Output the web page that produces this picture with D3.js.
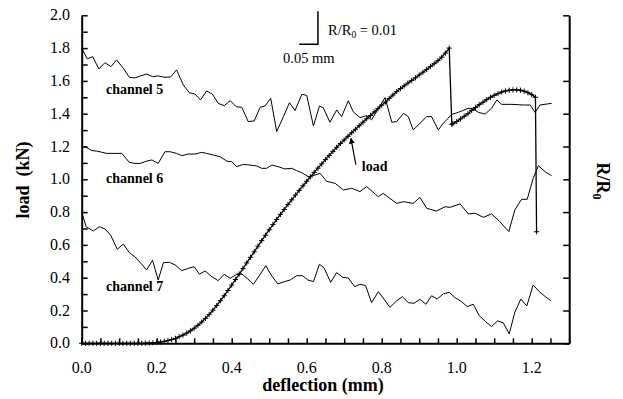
<!DOCTYPE html>
<html>
<head>
<meta charset="utf-8">
<script src="https://cdn.jsdelivr.net/npm/d3@7"></script>
<style>
  body { margin: 0; background: #fff; }
  svg { display: block; }
  text { fill: #000; }
</style>
</head>
<body>
<svg id="chart" width="623" height="399" font-family="'Liberation Serif', 'Times New Roman', 'DejaVu Serif', serif"></svg>
<script>
// deflection (mm) vs load (kN)
const loadX = [
  0.00, 0.01, 0.02, 0.03, 0.04, 0.05, 0.06, 0.07, 0.08, 0.09,
  0.10, 0.11, 0.12, 0.13, 0.14, 0.15, 0.16, 0.17, 0.18, 0.19,
  0.20, 0.21, 0.22, 0.23, 0.24, 0.25, 0.26, 0.27, 0.28, 0.29,
  0.30, 0.31, 0.32, 0.33, 0.34, 0.35, 0.36, 0.37, 0.38, 0.39,
  0.40, 0.41, 0.42, 0.43, 0.44, 0.45, 0.46, 0.47, 0.48, 0.49,
  0.50, 0.51, 0.52, 0.53, 0.54, 0.55, 0.56, 0.57, 0.58, 0.59,
  0.60, 0.61, 0.62, 0.63, 0.64, 0.65, 0.66, 0.67, 0.68, 0.69,
  0.70, 0.71, 0.72, 0.73, 0.74, 0.75, 0.76, 0.77, 0.78, 0.79,
  0.80, 0.81, 0.82, 0.83, 0.84, 0.85, 0.86, 0.87, 0.88, 0.89,
  0.90, 0.91, 0.92, 0.93, 0.94, 0.95, 0.96, 0.97, 0.98, 0.987,
  0.99, 1.00, 1.01, 1.02, 1.03, 1.04, 1.05, 1.06, 1.07, 1.08,
  1.09, 1.10, 1.11, 1.12, 1.13, 1.14, 1.15, 1.16, 1.17, 1.18,
  1.19, 1.20, 1.21, 1.213
];
const loadY = [
  0.000, 0.000, 0.000, 0.000, 0.000, 0.000, 0.000, 0.000, 0.000, 0.000,
  0.000, 0.000, 0.000, 0.000, 0.000, 0.000, 0.000, 0.001, 0.002, 0.003,
  0.005, 0.008, 0.012, 0.017, 0.023, 0.030, 0.040, 0.050, 0.062, 0.076,
  0.092, 0.110, 0.130, 0.152, 0.176, 0.202, 0.230, 0.260, 0.290, 0.322,
  0.355, 0.389, 0.422, 0.456, 0.490, 0.524, 0.558, 0.592, 0.626, 0.659,
  0.692, 0.724, 0.755, 0.786, 0.816, 0.846, 0.875, 0.904, 0.932, 0.960,
  0.988, 1.015, 1.042, 1.068, 1.094, 1.120, 1.145, 1.170, 1.195, 1.218,
  1.240, 1.262, 1.284, 1.305, 1.327, 1.348, 1.369, 1.389, 1.410, 1.431,
  1.452, 1.472, 1.493, 1.514, 1.535, 1.553, 1.570, 1.587, 1.603, 1.619,
  1.636, 1.653, 1.670, 1.688, 1.705, 1.723, 1.745, 1.770, 1.800, 1.335,
  1.340, 1.352, 1.368, 1.384, 1.400, 1.420, 1.438, 1.455, 1.470, 1.486,
  1.500, 1.512, 1.522, 1.532, 1.539, 1.543, 1.545, 1.545, 1.543, 1.537,
  1.528, 1.516, 1.500, 0.680
];

// resistance channels, drawn against the load axis as in the figure
const channel5 = [
  [0.000, 1.799], [0.015, 1.734], [0.029, 1.748], [0.046, 1.673], [0.062, 1.711],
  [0.078, 1.687], [0.093, 1.728], [0.111, 1.677], [0.127, 1.622], [0.142, 1.618],
  [0.156, 1.630], [0.173, 1.642], [0.189, 1.626], [0.204, 1.630], [0.222, 1.622],
  [0.237, 1.624], [0.253, 1.667], [0.271, 1.575], [0.287, 1.528], [0.302, 1.520],
  [0.317, 1.484], [0.333, 1.539], [0.349, 1.518], [0.364, 1.463], [0.380, 1.449],
  [0.396, 1.480], [0.412, 1.443], [0.427, 1.439], [0.444, 1.352], [0.460, 1.356],
  [0.476, 1.439], [0.489, 1.447], [0.504, 1.494], [0.520, 1.291], [0.538, 1.382],
  [0.554, 1.467], [0.569, 1.419], [0.587, 1.518], [0.600, 1.512], [0.618, 1.325],
  [0.634, 1.447], [0.644, 1.437], [0.662, 1.348], [0.680, 1.423], [0.693, 1.382],
  [0.711, 1.479], [0.724, 1.412], [0.742, 1.376], [0.760, 1.388], [0.773, 1.362],
  [0.791, 1.433], [0.809, 1.498], [0.827, 1.348], [0.840, 1.352], [0.858, 1.402],
  [0.871, 1.382], [0.884, 1.301], [0.902, 1.341], [0.920, 1.382], [0.933, 1.382],
  [0.951, 1.301], [0.964, 1.341], [0.987, 1.396], [1.004, 1.408], [1.031, 1.433],
  [1.044, 1.429], [1.058, 1.408], [1.076, 1.398], [1.093, 1.433], [1.107, 1.484],
  [1.120, 1.457], [1.147, 1.457], [1.178, 1.453], [1.196, 1.453], [1.209, 1.408],
  [1.222, 1.453], [1.253, 1.463]
];
const channel6 = [
  [0.000, 1.199], [0.012, 1.195], [0.027, 1.175], [0.040, 1.172], [0.067, 1.158],
  [0.084, 1.158], [0.107, 1.158], [0.127, 1.103], [0.142, 1.097], [0.156, 1.097],
  [0.173, 1.111], [0.187, 1.118], [0.204, 1.097], [0.222, 1.168], [0.236, 1.168],
  [0.253, 1.158], [0.267, 1.144], [0.284, 1.154], [0.302, 1.154], [0.320, 1.164],
  [0.333, 1.158], [0.351, 1.148], [0.369, 1.138], [0.387, 1.111], [0.400, 1.107],
  [0.413, 1.077], [0.431, 1.091], [0.449, 1.087], [0.467, 1.081], [0.480, 1.067],
  [0.493, 1.067], [0.507, 1.087], [0.524, 1.077], [0.542, 1.063], [0.560, 1.067],
  [0.573, 1.053], [0.587, 1.040], [0.604, 1.016], [0.622, 1.026], [0.636, 1.036],
  [0.653, 0.988], [0.676, 0.975], [0.698, 0.935], [0.720, 0.945], [0.742, 0.925],
  [0.760, 0.955], [0.791, 0.894], [0.804, 0.914], [0.840, 0.853], [0.858, 0.864],
  [0.884, 0.853], [0.902, 0.890], [0.920, 0.823], [0.946, 0.806], [0.969, 0.833],
  [0.982, 0.829], [1.009, 0.850], [1.031, 0.789], [1.049, 0.793], [1.071, 0.768],
  [1.093, 0.789], [1.115, 0.742], [1.139, 0.681], [1.155, 0.813], [1.173, 0.878],
  [1.188, 0.878], [1.204, 1.006], [1.218, 1.083], [1.236, 1.046], [1.253, 1.022]
];
const channel7 = [
  [0.000, 0.800], [0.012, 0.711], [0.031, 0.685], [0.047, 0.711], [0.062, 0.697],
  [0.077, 0.660], [0.095, 0.573], [0.111, 0.605], [0.127, 0.553], [0.142, 0.528],
  [0.160, 0.482], [0.173, 0.447], [0.189, 0.506], [0.204, 0.386], [0.218, 0.492],
  [0.234, 0.494], [0.249, 0.478], [0.267, 0.443], [0.284, 0.457], [0.300, 0.467],
  [0.314, 0.421], [0.329, 0.441], [0.347, 0.406], [0.364, 0.382], [0.380, 0.421],
  [0.396, 0.396], [0.413, 0.421], [0.427, 0.423], [0.443, 0.392], [0.458, 0.360],
  [0.476, 0.421], [0.491, 0.474], [0.505, 0.417], [0.523, 0.362], [0.540, 0.376],
  [0.556, 0.386], [0.573, 0.412], [0.589, 0.412], [0.603, 0.386], [0.618, 0.376],
  [0.634, 0.482], [0.646, 0.461], [0.664, 0.372], [0.680, 0.431], [0.696, 0.402],
  [0.711, 0.398], [0.728, 0.345], [0.742, 0.360], [0.757, 0.352], [0.773, 0.248],
  [0.791, 0.315], [0.806, 0.270], [0.822, 0.219], [0.840, 0.260], [0.855, 0.284],
  [0.871, 0.248], [0.886, 0.244], [0.902, 0.268], [0.918, 0.238], [0.933, 0.290],
  [0.948, 0.270], [0.964, 0.301], [0.980, 0.311], [0.995, 0.280], [1.013, 0.254],
  [1.028, 0.224], [1.044, 0.238], [1.060, 0.169], [1.077, 0.132], [1.093, 0.102],
  [1.109, 0.136], [1.124, 0.126], [1.140, 0.057], [1.155, 0.189], [1.171, 0.270],
  [1.187, 0.228], [1.204, 0.356], [1.220, 0.315], [1.236, 0.285], [1.251, 0.260]
];

const xTicks = [0.0, 0.2, 0.4, 0.6, 0.8, 1.0, 1.2];
const yTicks = [0.0, 0.2, 0.4, 0.6, 0.8, 1.0, 1.2, 1.4, 1.6, 1.8, 2.0];

// labels placed in data units
const channelLabels = [
  { text: "channel 5", x: 0.065, y: 1.52 },
  { text: "channel 6", x: 0.065, y: 0.98 },
  { text: "channel 7", x: 0.065, y: 0.32 }
];
const loadArrow = { from: [0.731, 1.09], to: [0.718, 1.25], text: "load", tx: 0.747, ty: 1.05 };
// scale bar: 0.05 mm across, R/R0 = 0.01 up
const scaleBarX = [0.58, 0.63];
const scaleBarR = [0.0912, 0.1012];

const svg = d3.select("#chart");
const mLeft = 81.7, mRight = 569.2, mTop = 15.3, mBottom = 343.3;

const x = d3.scaleLinear().domain([0, 1.3]).range([mLeft, mRight]);
const y = d3.scaleLinear().domain([0, 2.0]).range([mBottom, mTop]);
const yR = d3.scaleLinear().domain([0, 0.1]).range([mBottom, mTop]);

svg.append("rect").attr("width", 623).attr("height", 399).attr("fill", "#fff");

// axes, ticks pointing inward
const xAxis = d3.axisBottom(x).tickValues(d3.range(0, 1.3001, 0.05)).tickSizeInner(-5).tickSizeOuter(0).tickFormat("");
const gx = svg.append("g").attr("transform", `translate(0,${mBottom})`).call(xAxis);
const yAxis = d3.axisLeft(y).tickValues(d3.range(0, 2.0001, 0.1)).tickSizeInner(-6).tickSizeOuter(0).tickFormat("");
const gy = svg.append("g").attr("transform", `translate(${mLeft},0)`).call(yAxis);
const yAxisR = d3.axisRight(yR).ticks(10).tickSizeInner(-6).tickSizeOuter(0).tickFormat("");
const gr = svg.append("g").attr("transform", `translate(${mRight},0)`).call(yAxisR);

[gx, gy, gr].forEach(g => {
  g.select(".domain").attr("stroke", "#000").attr("stroke-width", 2);
  g.selectAll(".tick line").attr("stroke", "#000").attr("stroke-width", 1.5);
});

// tick labels
svg.append("g").selectAll("text").data(xTicks).join("text")
  .attr("x", d => x(d)).attr("y", 373)
  .attr("text-anchor", "middle").attr("font-size", 16)
  .text(d => d.toFixed(1));
svg.append("g").selectAll("text").data(yTicks).join("text")
  .attr("x", 70).attr("y", d => y(d) + 5)
  .attr("text-anchor", "end").attr("font-size", 16)
  .text(d => d.toFixed(1));

// axis titles
svg.append("text").attr("x", 323).attr("y", 391)
  .attr("text-anchor", "middle").attr("font-size", 18).attr("font-weight", "bold")
  .text("deflection (mm)");
svg.append("text").attr("transform", "translate(29,180) rotate(-90)")
  .attr("text-anchor", "middle").attr("font-size", 18).attr("font-weight", "bold")
  .attr("xml:space", "preserve")
  .text("load  (kN)");
const rTitle = svg.append("text").attr("transform", "translate(597,181) rotate(90)")
  .attr("text-anchor", "middle").attr("font-size", 18).attr("font-weight", "bold");
rTitle.append("tspan").text("R/R");
rTitle.append("tspan").attr("font-size", 12).attr("dy", 4).text("0");

// channel lines
const line = d3.line().x(d => x(d[0])).y(d => y(d[1]));
[channel5, channel6, channel7].forEach(ch => {
  svg.append("path").datum(ch).attr("d", line)
    .attr("fill", "none").attr("stroke", "#000").attr("stroke-width", 1);
});

// load curve with + markers
const loadPts = loadX.map((d, i) => [d, loadY[i]]);
svg.append("path").datum(loadPts).attr("d", line)
  .attr("fill", "none").attr("stroke", "#000").attr("stroke-width", 1.3);
svg.append("g").selectAll("path").data(loadPts).join("path")
  .attr("transform", d => `translate(${x(d[0])},${y(d[1])})`)
  .attr("d", "M-2.6,0H2.6M0,-2.6V2.6")
  .attr("stroke", "#000").attr("stroke-width", 1);

// channel labels
svg.append("g").selectAll("text").data(channelLabels).join("text")
  .attr("x", d => x(d.x)).attr("y", d => y(d.y))
  .attr("font-size", 14).attr("font-weight", "bold")
  .text(d => d.text);

// load arrow
svg.append("defs").append("marker")
  .attr("id", "head").attr("viewBox", "0 0 10 10").attr("refX", 9).attr("refY", 5)
  .attr("markerWidth", 5).attr("markerHeight", 9).attr("orient", "auto")
  .append("path").attr("d", "M0,0L10,5L0,10Z").attr("fill", "#000");
svg.append("line")
  .attr("x1", x(loadArrow.from[0])).attr("y1", y(loadArrow.from[1]))
  .attr("x2", x(loadArrow.to[0])).attr("y2", y(loadArrow.to[1]))
  .attr("stroke", "#000").attr("stroke-width", 1.2).attr("marker-end", "url(#head)");
svg.append("text").attr("x", x(loadArrow.tx)).attr("y", y(loadArrow.ty))
  .attr("font-size", 14).attr("font-weight", "bold").text(loadArrow.text);

// scale bar
svg.append("path")
  .attr("d", `M${x(scaleBarX[0])},${yR(scaleBarR[0])}H${x(scaleBarX[1])}V${yR(scaleBarR[1])}`)
  .attr("fill", "none").attr("stroke", "#000").attr("stroke-width", 1.5);
const sb = svg.append("text").attr("x", 328).attr("y", 35).attr("font-size", 14.5);
sb.append("tspan").text("R/R");
sb.append("tspan").attr("font-size", 9.5).attr("dy", 3).text("0");
sb.append("tspan").attr("dy", -3).text(" = 0.01");
svg.append("text").attr("x", 283).attr("y", 63).attr("font-size", 14.5).text("0.05 mm");
</script>
</body>
</html>
